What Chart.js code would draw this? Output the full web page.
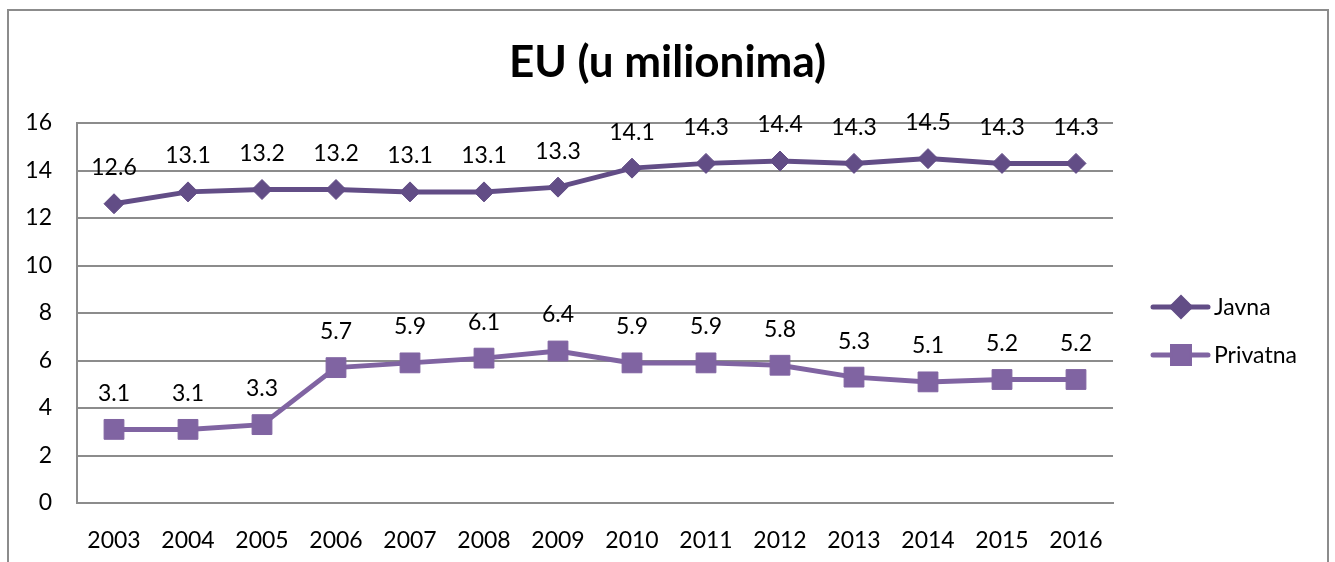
<!DOCTYPE html>
<html>
<head>
<meta charset="utf-8">
<script src="https://cdn.jsdelivr.net/npm/chart.js@4/dist/chart.umd.min.js"></script>
<style>
  html, body { margin: 0; padding: 0; background: #fff; }
  #wrap { position: relative; width: 1335px; height: 562px; }
</style>
</head>
<body>
<div id="wrap"><canvas id="euChart" width="1335" height="562"></canvas></div>
<script>
// podaci sa grafikona
const years = ["2003", "2004", "2005", "2006", "2007", "2008", "2009", "2010", "2011", "2012", "2013", "2014", "2015", "2016"];
const javna = [12.6, 13.1, 13.2, 13.2, 13.1, 13.1, 13.3, 14.1, 14.3, 14.4, 14.3, 14.5, 14.3, 14.3];
const privatna = [3.1, 3.1, 3.3, 5.7, 5.9, 6.1, 6.4, 5.9, 5.9, 5.8, 5.3, 5.1, 5.2, 5.2];
const yTicks = [0, 2, 4, 6, 8, 10, 12, 14, 16];
const chartTitle = "EU (u milionima)";

const FONT = "Lato, 'Open Sans', sans-serif";
const gridColor = "#8c8c8c";

// okvir, naslov, oznake vrijednosti i legenda
const excelLook = {
  id: "excelLook",
  beforeDraw(chart) {
    const ctx = chart.ctx;
    ctx.save();
    ctx.strokeStyle = "#8c8c8c";
    ctx.lineWidth = 2;
    ctx.strokeRect(8, 10, 1320, 620);

    ctx.font = "bold 44px " + FONT;
    ctx.fillStyle = "#000";
    ctx.textAlign = "center";
    ctx.textBaseline = "alphabetic";
    ctx.fillText(chartTitle, chart.width / 2, 77);
    ctx.restore();
  },
  afterDatasetsDraw(chart) {
    const ctx = chart.ctx;
    ctx.save();
    ctx.font = "23px " + FONT;
    ctx.fillStyle = "#000";
    ctx.textAlign = "center";
    ctx.textBaseline = "middle";
    chart.data.datasets.forEach((ds, i) => {
      chart.getDatasetMeta(i).data.forEach((pt, j) => {
        ctx.fillText(ds.data[j].toFixed(1), pt.x, pt.y - 36);
      });
    });

    // legenda desno
    const lx = chart.chartArea.right + 40;
    const ly = [307, 355];
    chart.data.datasets.forEach((ds, i) => {
      const y = ly[i];
      ctx.strokeStyle = ds.borderColor;
      ctx.lineWidth = 5;
      ctx.lineCap = "round";
      ctx.beginPath();
      ctx.moveTo(lx, y);
      ctx.lineTo(lx + 55, y);
      ctx.stroke();
      Chart.helpers.drawPoint(ctx, {
        pointStyle: ds.pointStyle,
        radius: ds.pointStyle === "rect" ? 12 : 9,
        borderWidth: 1
      }, lx + 28, y);
      ctx.fillStyle = ds.backgroundColor;
      ctx.fill();
      ctx.fillStyle = "#000";
      ctx.textAlign = "left";
      ctx.fillText(ds.label, lx + 61, y + 1);
    });
    ctx.restore();
  }
};

new Chart(document.getElementById("euChart"), {
  type: "line",
  data: {
    labels: years,
    datasets: [
      {
        label: "Javna",
        data: javna,
        borderColor: "#624d86",
        backgroundColor: "#624d86",
        borderWidth: 5,
        pointStyle: "rectRot",
        pointRadius: 10,
        pointBorderWidth: 1,
        pointHoverRadius: 10,
        tension: 0
      },
      {
        label: "Privatna",
        data: privatna,
        borderColor: "#8064a2",
        backgroundColor: "#8064a2",
        borderWidth: 5,
        pointStyle: "rect",
        pointRadius: 14,
        pointBorderWidth: 1,
        pointHoverRadius: 14,
        tension: 0
      }
    ]
  },
  options: {
    responsive: false,
    animation: false,
    layout: { padding: { left: 0, right: 222, top: 123, bottom: 0 } },
    plugins: {
      legend: { display: false },
      tooltip: { enabled: false },
      title: { display: false }
    },
    scales: {
      x: {
        offset: true,
        grid: { display: false, drawTicks: false },
        border: { display: true, color: gridColor, width: 2 },
        ticks: { color: "#000", font: { family: FONT, size: 23 }, padding: 24, maxRotation: 0 },
        afterFit: (s) => { s.height = 59; }
      },
      y: {
        min: 0,
        max: 16,
        afterBuildTicks: (s) => { s.ticks = yTicks.map(v => ({ value: v })); },
        grid: { color: gridColor, lineWidth: 2, drawTicks: false },
        border: { display: true, color: gridColor, width: 2 },
        ticks: { color: "#000", font: { family: FONT, size: 23 }, padding: 25 },
        afterFit: (s) => { s.width = 77; }
      }
    }
  },
  plugins: [excelLook]
});
</script>
</body>
</html>
